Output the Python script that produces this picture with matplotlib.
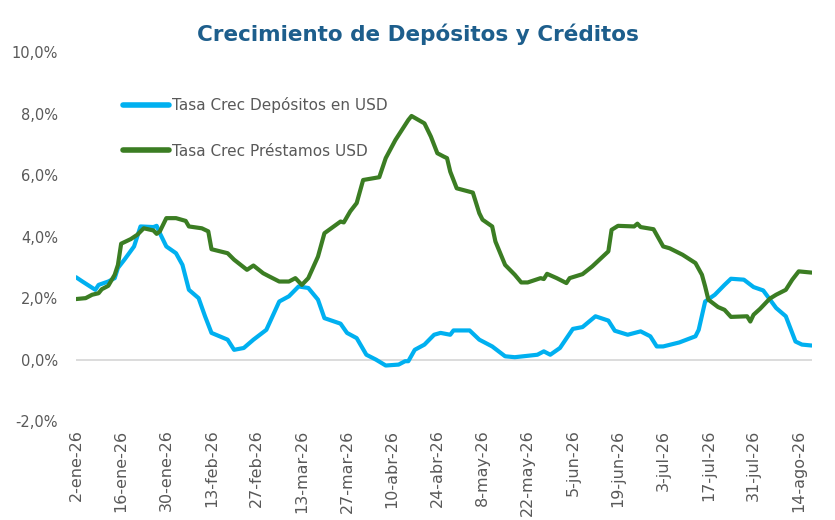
import numpy as np
import pandas as pd
import matplotlib
matplotlib.use('Agg')
from matplotlib import pyplot as plt
from matplotlib import dates as mdates
from matplotlib.ticker import FuncFormatter

# Tasa de crecimiento de depositos en USD (%)
dep_dates = ['2026-01-02', '2026-01-04', '2026-01-08', '2026-01-09', '2026-01-12', '2026-01-14',
             '2026-01-15', '2026-01-17', '2026-01-20', '2026-01-22', '2026-01-26', '2026-01-27',
             '2026-01-28', '2026-01-30', '2026-02-02', '2026-02-04', '2026-02-06', '2026-02-09',
             '2026-02-11', '2026-02-13', '2026-02-18', '2026-02-20', '2026-02-23', '2026-02-26',
             '2026-03-02', '2026-03-06', '2026-03-09', '2026-03-12', '2026-03-15', '2026-03-18',
             '2026-03-20', '2026-03-25', '2026-03-27', '2026-03-30', '2026-04-02', '2026-04-05',
             '2026-04-08', '2026-04-12', '2026-04-14', '2026-04-15', '2026-04-17', '2026-04-20',
             '2026-04-23', '2026-04-25', '2026-04-28', '2026-04-29', '2026-05-04', '2026-05-07',
             '2026-05-11', '2026-05-15', '2026-05-18', '2026-05-25', '2026-05-27', '2026-05-29',
             '2026-06-01', '2026-06-05', '2026-06-08', '2026-06-12', '2026-06-16', '2026-06-18',
             '2026-06-22', '2026-06-26', '2026-06-29', '2026-07-01', '2026-07-03', '2026-07-08',
             '2026-07-13', '2026-07-14', '2026-07-16', '2026-07-19', '2026-07-22', '2026-07-24',
             '2026-07-28', '2026-07-31', '2026-08-03', '2026-08-07', '2026-08-10', '2026-08-13',
             '2026-08-15', '2026-08-18']
dep_vals = [2.68, 2.54, 2.27, 2.43, 2.54, 2.65,
            2.98, 3.25, 3.68, 4.33, 4.31, 4.35,
            4.11, 3.68, 3.46, 3.08, 2.27, 2.00,
            1.41, 0.87, 0.65, 0.32, 0.38, 0.65,
            0.97, 1.89, 2.06, 2.38, 2.33, 1.95,
            1.35, 1.17, 0.87, 0.70, 0.16, 0.00,
            -0.19, -0.16, -0.05, -0.05, 0.32, 0.49,
            0.81, 0.87, 0.81, 0.95, 0.95, 0.65,
            0.43, 0.11, 0.08, 0.16, 0.27, 0.16,
            0.38, 1.00, 1.06, 1.41, 1.27, 0.94,
            0.81, 0.92, 0.76, 0.43, 0.43, 0.56,
            0.76, 0.97, 1.89, 2.11, 2.43, 2.63,
            2.60, 2.36, 2.25, 1.68, 1.41, 0.59,
            0.49, 0.46]

# Tasa de crecimiento de prestamos en USD (%)
pre_dates = ['2026-01-02', '2026-01-05', '2026-01-07', '2026-01-09', '2026-01-10', '2026-01-12',
             '2026-01-14', '2026-01-15', '2026-01-16', '2026-01-19', '2026-01-21', '2026-01-23',
             '2026-01-26', '2026-01-27', '2026-01-28', '2026-01-30', '2026-02-02', '2026-02-05',
             '2026-02-06', '2026-02-10', '2026-02-12', '2026-02-13', '2026-02-18', '2026-02-20',
             '2026-02-24', '2026-02-26', '2026-03-01', '2026-03-03', '2026-03-06', '2026-03-09',
             '2026-03-11', '2026-03-13', '2026-03-15', '2026-03-18', '2026-03-20', '2026-03-25',
             '2026-03-26', '2026-03-28', '2026-03-30', '2026-04-01', '2026-04-06', '2026-04-08',
             '2026-04-11', '2026-04-15', '2026-04-16', '2026-04-20', '2026-04-22', '2026-04-24',
             '2026-04-26', '2026-04-27', '2026-04-28', '2026-04-30', '2026-05-05', '2026-05-07',
             '2026-05-08', '2026-05-11', '2026-05-12', '2026-05-15', '2026-05-18', '2026-05-20',
             '2026-05-22', '2026-05-26', '2026-05-27', '2026-05-28', '2026-05-31', '2026-06-03',
             '2026-06-04', '2026-06-08', '2026-06-11', '2026-06-16', '2026-06-17', '2026-06-19',
             '2026-06-24', '2026-06-25', '2026-06-26', '2026-06-30', '2026-07-03', '2026-07-05',
             '2026-07-09', '2026-07-13', '2026-07-15', '2026-07-16', '2026-07-17', '2026-07-20',
             '2026-07-22', '2026-07-24', '2026-07-29', '2026-07-30', '2026-07-31', '2026-08-02',
             '2026-08-05', '2026-08-07', '2026-08-10', '2026-08-12', '2026-08-14', '2026-08-18']
pre_vals = [1.97, 2.00, 2.11, 2.16, 2.29, 2.40,
            2.76, 3.08, 3.77, 3.92, 4.06, 4.27,
            4.20, 4.09, 4.17, 4.60, 4.60, 4.51,
            4.33, 4.27, 4.17, 3.59, 3.46, 3.25,
            2.92, 3.06, 2.81, 2.70, 2.54, 2.54,
            2.65, 2.43, 2.65, 3.35, 4.11, 4.49,
            4.46, 4.82, 5.09, 5.84, 5.93, 6.55,
            7.14, 7.79, 7.92, 7.68, 7.25, 6.71,
            6.60, 6.55, 6.11, 5.57, 5.43, 4.76,
            4.55, 4.33, 3.84, 3.08, 2.76, 2.51,
            2.51, 2.65, 2.62, 2.79, 2.65, 2.49,
            2.65, 2.78, 3.03, 3.52, 4.22, 4.35,
            4.33, 4.42, 4.31, 4.24, 3.68, 3.62,
            3.41, 3.14, 2.76, 2.38, 1.95, 1.71,
            1.62, 1.39, 1.41, 1.24, 1.46, 1.65,
            1.98, 2.11, 2.27, 2.60, 2.87, 2.83]

tick_dates = pd.date_range('2026-01-02', '2026-08-14', freq='14D')
month_abbr = ['ene', 'feb', 'mar', 'abr', 'may', 'jun', 'jul', 'ago', 'sep', 'oct', 'nov', 'dic']
tick_labels = [str(d.day) + '-' + month_abbr[d.month - 1] + '-26' for d in tick_dates]

blue = '#00B0F0'
green = '#3B7D23'
gray_txt = '#595959'

fig = plt.figure(figsize=(8.35, 5.2), dpi=100)
ax = fig.add_axes([0.091, 0.19, 0.881, 0.71])

ax.plot(pd.to_datetime(dep_dates), dep_vals, color=blue, linewidth=3.0,
        solid_capstyle='round', solid_joinstyle='round', label='Tasa Crec Depósitos en USD')
ax.plot(pd.to_datetime(pre_dates), pre_vals, color=green, linewidth=3.0,
        solid_capstyle='round', solid_joinstyle='round', label='Tasa Crec Préstamos USD')

ax.axhline(0, color='#D9D9D9', linewidth=1.3, zorder=0)
ax.set_ylim(-2, 10)
ax.set_yticks(np.arange(-2, 10.1, 2))
ax.yaxis.set_major_formatter(FuncFormatter(lambda v, p: ('%.1f%%' % v).replace('.', ',')))
ax.set_xlim(pd.Timestamp('2026-01-02'), pd.Timestamp('2026-08-18'))
ax.set_xticks(tick_dates)
ax.set_xticklabels(tick_labels, rotation=90)

for s in ax.spines.values():
    s.set_visible(False)
ax.tick_params(axis='both', length=0, colors=gray_txt)
ax.tick_params(axis='y', pad=13, labelsize=10.5)
ax.tick_params(axis='x', pad=6, labelsize=11.5)

leg = ax.legend(loc='upper left', bbox_to_anchor=(0.045, 0.915), frameon=False,
                fontsize=11, labelcolor=gray_txt, handlelength=3.0, handletextpad=0.2,
                labelspacing=2.0)
for h in leg.legend_handles:
    h.set_linewidth(4)

fig.text(0.5, 0.935, 'Crecimiento de Depósitos y Créditos', ha='center', va='center',
         fontsize=15.5, fontweight='bold', color='#1D5E8C')

plt.savefig('out.png', dpi=100)
